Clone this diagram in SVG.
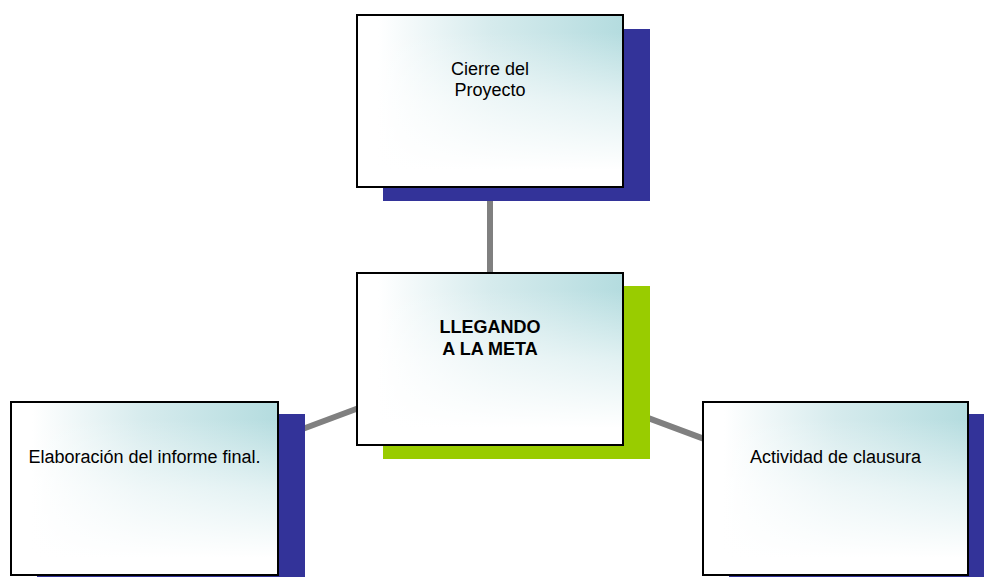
<svg xmlns="http://www.w3.org/2000/svg" width="984" height="577" viewBox="0 0 984 577">
<defs>
<linearGradient id="hz" x1="0" y1="0" x2="1" y2="0">
<stop offset="0.08" stop-color="#ffffff"/>
<stop offset="0.5" stop-color="#d6ebed"/>
<stop offset="1" stop-color="#b4dcdf"/>
</linearGradient>
<linearGradient id="vt" x1="0" y1="0" x2="0" y2="1">
<stop offset="0.1" stop-color="#ffffff" stop-opacity="0"/>
<stop offset="0.5" stop-color="#ffffff" stop-opacity="0.6"/>
<stop offset="0.9" stop-color="#ffffff" stop-opacity="1"/>
</linearGradient>
</defs>
<style>
.box{fill:url(#hz)}
.ov{fill:url(#vt)}
.frame{fill:none;stroke:#000;stroke-width:2}
.blue{fill:#333399}
.green{fill:#99cc00}
.t{font-family:"Liberation Sans",Arial,sans-serif;font-size:18px;fill:#000;text-anchor:middle}
.b{font-weight:bold}
.conn{stroke:#808080;stroke-width:6;fill:none}
</style>
<rect width="984" height="577" fill="#fff"/>
<g id="connectors">
<line class="conn" x1="490" y1="101" x2="490" y2="359"/>
<line class="conn" x1="490" y1="359" x2="144.5" y2="488"/>
<line class="conn" x1="490" y1="359" x2="835.5" y2="488"/>
</g>
<g id="node-cierre">
<rect class="blue" x="383" y="29" width="267" height="172"/>
<rect class="box" x="357" y="15" width="266" height="172"/>
<rect class="ov" x="357" y="15" width="266" height="172"/>
<rect class="frame" x="357" y="15" width="266" height="172"/>
<text class="t" x="490" y="75">Cierre del</text>
<text class="t" x="490" y="96">Proyecto</text>
</g>
<g id="node-meta">
<rect class="green" x="383" y="286" width="267" height="173"/>
<rect class="box" x="357" y="273" width="266" height="172"/>
<rect class="ov" x="357" y="273" width="266" height="172"/>
<rect class="frame" x="357" y="273" width="266" height="172"/>
<text class="t b" x="490" y="333">LLEGANDO</text>
<text class="t b" x="490" y="355">A LA META</text>
</g>
<g id="node-informe">
<rect class="blue" x="37" y="414" width="268" height="175"/>
<rect class="box" x="11" y="402" width="267" height="173"/>
<rect class="ov" x="11" y="402" width="267" height="173"/>
<rect class="frame" x="11" y="402" width="267" height="173"/>
<text class="t" x="144.5" y="463">Elaboración del informe final.</text>
</g>
<g id="node-clausura">
<rect class="blue" x="729" y="414" width="268" height="175"/>
<rect class="box" x="703" y="402" width="265" height="173"/>
<rect class="ov" x="703" y="402" width="265" height="173"/>
<rect class="frame" x="703" y="402" width="265" height="173"/>
<text class="t" x="835.5" y="463">Actividad de clausura</text>
</g>
</svg>
